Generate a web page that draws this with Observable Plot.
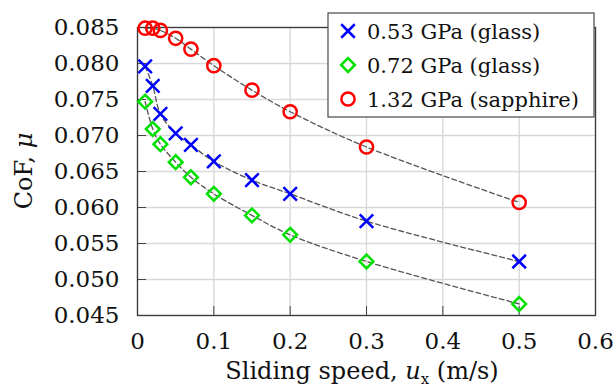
<!DOCTYPE html>
<html><head><meta charset="utf-8">
<script src="https://cdn.jsdelivr.net/npm/d3@7"></script>
<script src="https://cdn.jsdelivr.net/npm/@observablehq/plot@0.6"></script>
<style>body{margin:0;background:#fff} svg{display:block}</style>
</head><body><div id="chart"></div>
<script>
const speeds = [0.01, 0.02, 0.03, 0.05, 0.07, 0.1, 0.15, 0.2, 0.3, 0.5];
const cof053 = [0.0796, 0.0769, 0.0730, 0.0703, 0.0687, 0.0664, 0.0638, 0.0619, 0.0581, 0.0525];
const cof072 = [0.0747, 0.0709, 0.0688, 0.0663, 0.0642, 0.0619, 0.0589, 0.0562, 0.0525, 0.0466];
const cof132 = [0.0849, 0.0849, 0.0846, 0.0835, 0.0820, 0.0797, 0.0763, 0.0733, 0.0684, 0.0607];
const seriesNames = ["0.53 GPa (glass)", "0.72 GPa (glass)", "1.32 GPa (sapphire)"];
const seriesColors = ["#0000ff", "#00e000", "#ff0000"];
const seriesSymbols = ["times", "diamond2", "circle"];
const xTicks = [0, 0.1, 0.2, 0.3, 0.4, 0.5, 0.6];
const yTicks = [0.045, 0.050, 0.055, 0.060, 0.065, 0.070, 0.075, 0.080, 0.085];

const seriesValues = [cof053, cof072, cof132];
const rows = [];
seriesValues.forEach((vals, i) => vals.forEach((v, j) => rows.push({series: seriesNames[i], x: speeds[j], y: v})));

const symR = {times: 6.2, diamond2: 6.2, circle: 6.6};

const marks = [
  Plot.gridX(xTicks, {stroke: "#d9d9d9", strokeOpacity: 1, strokeWidth: 1.4}),
  Plot.gridY(yTicks, {stroke: "#d9d9d9", strokeOpacity: 1, strokeWidth: 1.4}),
  Plot.line(rows, {x: "x", y: "y", z: "series", curve: "catmull-rom", stroke: "#555", strokeWidth: 1.3, strokeDasharray: "5,3"}),
  Plot.axisX(xTicks, {tickSize: -9, tickPadding: 26, label: null, tickFormat: d => String(d), stroke: "#444", fill: "#111"}),
  Plot.axisY(yTicks, {tickSize: -9, tickPadding: 27, label: null, tickFormat: d3.format(".3f"), stroke: "#444", fill: "#111"}),
  Plot.frame({stroke: "#3a3a3a", strokeWidth: 1.3})
];
seriesNames.forEach((name, i) => {
  marks.push(Plot.dot(rows.filter(r => r.series === name), {
    x: "x", y: "y", symbol: () => seriesSymbols[i], stroke: seriesColors[i],
    r: symR[seriesSymbols[i]], strokeWidth: 2.5, fill: "none"
  }));
});

const plot = Plot.plot({
  width: 614, height: 387,
  marginLeft: 137, marginRight: 19, marginTop: 27, marginBottom: 72,
  style: {fontFamily: "DejaVu Serif", fontSize: "23px", color: "#111", background: "#fff", overflow: "visible"},
  x: {domain: [0, 0.6]},
  y: {domain: [0.045, 0.085]},
  symbol: {domain: seriesSymbols, range: seriesSymbols},
  marks
});
document.getElementById("chart").appendChild(plot);

const svg = d3.select(plot);
// axis labels
const xl = svg.append("text").attr("x", 362).attr("y", 379).attr("text-anchor", "middle")
  .attr("font-family", "DejaVu Serif").attr("font-size", 24).attr("fill", "#111");
xl.append("tspan").text("Sliding speed, ");
xl.append("tspan").attr("font-style", "italic").text("u");
xl.append("tspan").attr("font-size", 15).attr("dy", 5).text("x");
xl.append("tspan").attr("dy", -5).text(" (m/s)");

const yl = svg.append("text").attr("transform", "translate(32,171) rotate(-90)").attr("text-anchor", "middle")
  .attr("font-family", "DejaVu Serif").attr("font-size", 24).attr("fill", "#111");
yl.append("tspan").text("CoF, ");
yl.append("tspan").attr("font-style", "italic").text("μ");

// legend
const lg = svg.append("g");
lg.append("rect").attr("x", 328).attr("y", 13).attr("width", 266).attr("height", 104)
  .attr("fill", "#fff").attr("stroke", "#555").attr("stroke-width", 1.3);
const symType = {times: d3.symbolTimes, diamond2: d3.symbolDiamond2, circle: d3.symbolCircle};
const rowY = [31, 65, 99];
seriesNames.forEach((name, i) => {
  const s = seriesSymbols[i];
  lg.append("path").attr("d", d3.symbol(symType[s], Math.PI * symR[s] * symR[s])())
    .attr("transform", `translate(348,${rowY[i]})`).attr("fill", "none")
    .attr("stroke", seriesColors[i]).attr("stroke-width", 2.5);
  lg.append("text").attr("x", 367).attr("y", rowY[i]).attr("dy", "0.36em").attr("text-anchor", "start")
    .attr("font-family", "DejaVu Serif").attr("font-size", 21).attr("fill", "#111").text(name);
});
</script>
</body></html>
